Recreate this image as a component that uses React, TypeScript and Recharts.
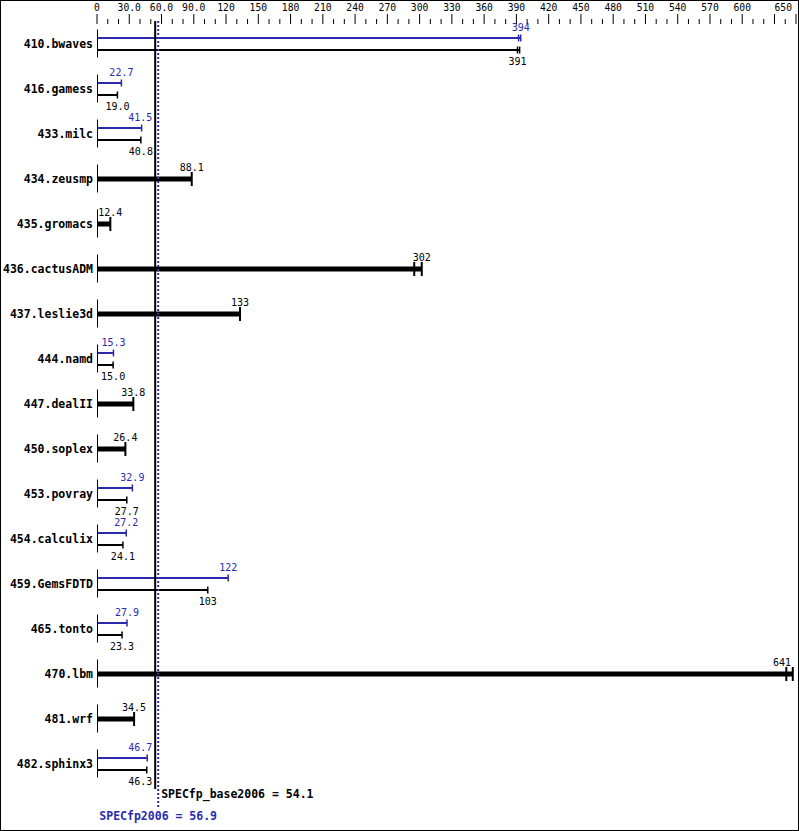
import { ComposedChart, Bar, XAxis, YAxis, ReferenceLine } from 'recharts';

// Benchmarks, top to bottom
const benchmarks = [
  '410.bwaves',
  '416.gamess',
  '433.milc',
  '434.zeusmp',
  '435.gromacs',
  '436.cactusADM',
  '437.leslie3d',
  '444.namd',
  '447.dealII',
  '450.soplex',
  '453.povray',
  '454.calculix',
  '459.GemsFDTD',
  '465.tonto',
  '470.lbm',
  '481.wrf',
  '482.sphinx3',
];

// Peak (blue) and base (black) ratios where they differ
const peakRatios = [394, 22.7, 41.5, null, null, null, null, 15.3, null, null, 32.9, 27.2, 122, 27.9, null, null, 46.7];
const baseRatios = [391, 19.0, 40.8, null, null, null, null, 15.0, null, null, 27.7, 24.1, 103, 23.3, null, null, 46.3];
// Rows where base == peak, drawn as one thick bar
const singleRatios = [null, null, null, 88.1, 12.4, 302, 133, null, 33.8, 26.4, null, null, null, null, 641, 34.5, null];

// Other run results (second tick at the bar end)
const peakOtherRuns = [392, null, null, null, null, null, null, null, null, null, null, null, null, null, null, null, null];
const baseOtherRuns = [393, null, null, null, null, null, null, null, null, null, null, null, null, null, null, null, null];
const singleOtherRuns = [null, null, null, null, null, 295, null, null, null, null, null, null, null, null, 647, null, null];

const labeledTicks = [0, 30, 60, 90, 120, 150, 180, 210, 240, 270, 300, 330, 360, 390, 420, 450, 480, 510, 540, 570, 600, 650];
const allTicks = Array.from({ length: 66 }, (_, i) => i * 10);

const MEAN_BASE = 54.1;
const MEAN_PEAK = 56.9;

const BLUE = '#2a2aae';
const MONO = '"DejaVu Sans Mono", monospace';

const endOf = (v: number | null, other: number | null) =>
  v == null ? null : Math.max(v, other ?? v);

const chartData = benchmarks.map((name, i) => ({
  name,
  peak: peakRatios[i],
  base: baseRatios[i],
  single: singleRatios[i],
  peakOther: peakOtherRuns[i],
  baseOther: baseOtherRuns[i],
  singleOther: singleOtherRuns[i],
  peakEnd: endOf(peakRatios[i], peakOtherRuns[i]),
  baseEnd: endOf(baseRatios[i], baseOtherRuns[i]),
  singleEnd: endOf(singleRatios[i], singleOtherRuns[i]),
}));

const fmt = (v: number) => (v >= 100 ? v.toFixed(0) : v.toFixed(1));

type Kind = 'peak' | 'base' | 'single';

const makeShape = (kind: Kind) => (props: any) => {
  const { x, y, width, height, payload } = props;
  const value = payload[kind];
  const end = payload[kind + 'End'];
  const other = payload[kind + 'Other'];
  if (value == null || !end || !width) return <g />;
  const unit = width / end;
  const cy = y + height / 2;
  const color = kind === 'peak' ? BLUE : '#000';
  const thick = kind === 'single';
  const barH = thick ? 5 : 2;
  const capH = thick ? 7 : 3.5;
  const runs = [value, ...(other != null ? [other] : [])];
  const label = fmt(value);
  const half = (label.length * 6) / 2;
  let lx = x + value * unit;
  // keep labels clear of the mean lines and the right edge
  const meanLeft = x + MEAN_BASE * unit - 2;
  const meanRight = x + MEAN_PEAK * unit + 2;
  if (lx + half > meanLeft && lx - half < meanRight) lx = meanLeft - 1 - half;
  if (lx + half > 791) lx = 791 - half;
  const ly = kind === 'peak' ? cy - 7 : kind === 'base' ? cy + 15 : cy - 8.5;
  return (
    <g>
      <rect x={x} y={cy - barH / 2} width={width} height={barH} fill={color} />
      {runs.map((r, i) => (
        <line
          key={i}
          x1={x + r * unit}
          x2={x + r * unit}
          y1={cy - capH}
          y2={cy + capH}
          stroke={color}
          strokeWidth={thick ? 2 : 1.5}
        />
      ))}
      <text x={lx} y={ly} textAnchor="middle" fontSize={10} fontFamily={MONO} fill={color}>
        {label}
      </text>
    </g>
  );
};

const XTick = (props: any) => {
  const { x, payload } = props;
  const v = payload.value;
  const major = labeledTicks.includes(v) || v % 30 === 0;
  const shown = labeledTicks.includes(v);
  const text = v > 0 && v < 100 ? v.toFixed(1) : String(v);
  const isLast = v === 650;
  return (
    <g>
      <line x1={x} x2={x} y1={major ? 14 : 19} y2={24} stroke="#000" strokeWidth={1} />
      {shown && (
        <text
          x={isLast ? x - 4 : x}
          y={11}
          textAnchor={isLast ? 'end' : 'middle'}
          fontSize={9.7}
          fontFamily={MONO}
          fill="#000"
        >
          {text}
        </text>
      )}
    </g>
  );
};

const YTick = (props: any) => {
  const { x, y, payload } = props;
  return (
    <g>
      <text
        x={x}
        y={y + 4}
        textAnchor="end"
        fontSize={11.5}
        fontWeight="bold"
        fontFamily={MONO}
        fill="#000"
      >
        {payload.value}
      </text>
      <line x1={x + 4.5} x2={x + 4.5} y1={y - 14} y2={y + 14} stroke="#000" strokeWidth={1} />
    </g>
  );
};

const BaseMeanLine = (props: any) => {
  const { x1, y1, y2 } = props;
  return (
    <g>
      <line x1={x1} x2={x1} y1={y1} y2={y2 + 3} stroke="#000" strokeWidth={2} />
      <text x={x1 + 6} y={y2 + 12} fontSize={11.5} fontWeight="bold" fontFamily={MONO} fill="#000">
        {`SPECfp_base2006 = ${MEAN_BASE}`}
      </text>
    </g>
  );
};

const PeakMeanLine = (props: any) => {
  const { x1, y1, y2 } = props;
  return (
    <g>
      <line
        x1={x1}
        x2={x1}
        y1={y1}
        y2={y2 + 21}
        stroke={BLUE}
        strokeWidth={2}
        strokeDasharray="2 2"
      />
      <text
        x={x1}
        y={y2 + 34}
        textAnchor="middle"
        fontSize={11.5}
        fontWeight="bold"
        fontFamily={MONO}
        fill={BLUE}
      >
        {`SPECfp2006 = ${MEAN_PEAK}`}
      </text>
    </g>
  );
};

export default function App() {
  return (
    <div style={{ position: 'absolute', left: 0, top: 0, width: 799, height: 831, background: '#fff' }}>
      <ComposedChart
        width={799}
        height={831}
        data={chartData}
        layout="vertical"
        margin={{ top: 0, right: 3, bottom: 45, left: 0 }}
        barGap={4}
        barSize={2}
      >
        <XAxis
          type="number"
          orientation="top"
          domain={[0, 650]}
          ticks={allTicks}
          interval={0}
          height={21}
          tickLine={false}
          axisLine={false}
          tick={<XTick />}
          allowDataOverflow
        />
        <YAxis
          type="category"
          dataKey="name"
          width={97}
          tickLine={false}
          axisLine={false}
          tickSize={0}
          tickMargin={4}
          interval={0}
          tick={<YTick />}
        />
        <Bar dataKey="peakEnd" isAnimationActive={false} shape={makeShape('peak')} />
        <Bar dataKey="singleEnd" isAnimationActive={false} shape={makeShape('single')} />
        <Bar dataKey="baseEnd" isAnimationActive={false} shape={makeShape('base')} />
        <ReferenceLine x={MEAN_BASE} shape={BaseMeanLine} />
        <ReferenceLine x={MEAN_PEAK} shape={PeakMeanLine} />
      </ComposedChart>
      <div
        style={{
          position: 'absolute',
          left: 0,
          top: 0,
          width: 799,
          height: 831,
          boxSizing: 'border-box',
          border: '1px solid #000',
          pointerEvents: 'none',
        }}
      />
    </div>
  );
}
